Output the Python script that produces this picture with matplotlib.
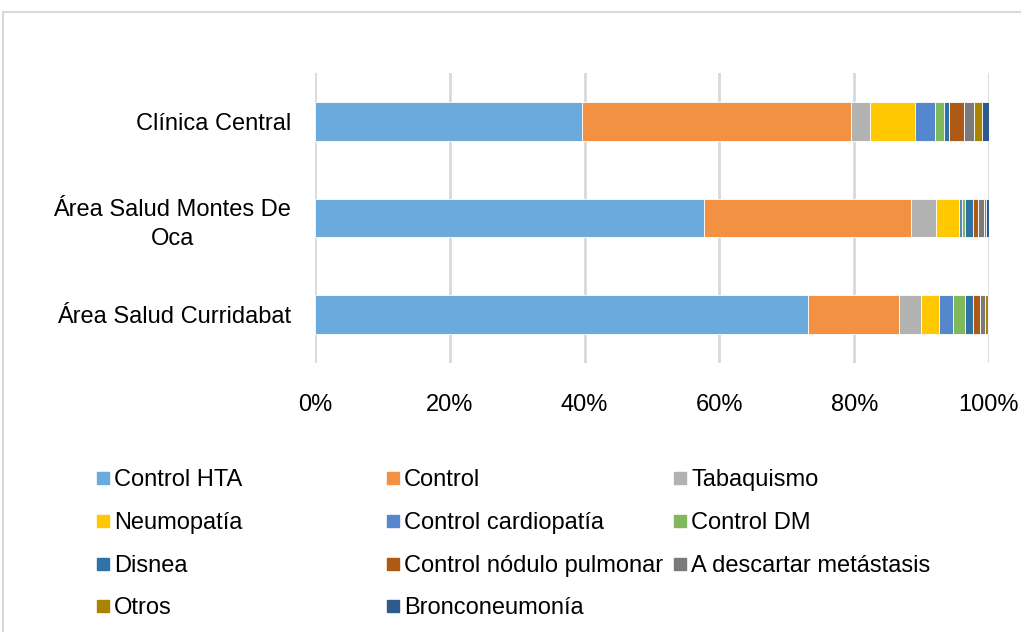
import matplotlib
matplotlib.use("Agg")
from matplotlib import pyplot as plt
from matplotlib.patches import Rectangle
import numpy as np

plt.rcParams['font.family'] = ['Liberation Sans', 'DejaVu Sans']

centros = ["Área Salud Curridabat", "Área Salud Montes De\nOca", "Clínica Central"]
motivos = ["Control HTA", "Control", "Tabaquismo", "Neumopatía", "Control cardiopatía",
           "Control DM", "Disnea", "Control nódulo pulmonar", "A descartar metástasis",
           "Otros", "Bronconeumonía"]
# porcentaje por motivo, en el orden de centros
valores = {
    "Control HTA":             [73.2, 57.7, 39.6],
    "Control":                 [13.4, 30.7, 39.9],
    "Tabaquismo":              [3.3, 3.7, 2.8],
    "Neumopatía":              [2.7, 3.4, 6.7],
    "Control cardiopatía":     [2.0, 0.5, 3.0],
    "Control DM":              [1.9, 0.5, 1.3],
    "Disnea":                  [1.2, 1.2, 0.8],
    "Control nódulo pulmonar": [1.0, 0.6, 2.2],
    "A descartar metástasis":  [0.7, 1.0, 1.5],
    "Otros":                   [0.5, 0.3, 1.1],
    "Bronconeumonía":          [0.1, 0.4, 1.1],
}
colores = ["#6AAADC", "#F29141", "#B2B2B2", "#FFC800", "#5587CF", "#80B85B",
           "#2E73A8", "#AE5914", "#7A7A7A", "#AA8400", "#2F5A8C"]

fig = plt.figure(figsize=(10.21, 6.32), dpi=100)
W, H = 1021, 632

# marco gris
fig.patches.append(Rectangle((3 / W, -0.2), 1.2, 1.2 - 12 / H, transform=fig.transFigure,
                             fill=False, edgecolor="#D9D9D9", linewidth=1.5))

ax = fig.add_axes([315 / W, 269 / H, 674 / W, 290 / H])
y = np.arange(len(centros))
izq = np.zeros(len(centros))
tot = np.sum([valores[m] for m in motivos], axis=0)
for m, c in zip(motivos, colores):
    v = np.array(valores[m]) / tot * 100
    ax.barh(y, v, left=izq, height=0.4, color=c, edgecolor="white", linewidth=0.6, zorder=3)
    izq += v

ax.set_xlim(0, 100)
ax.set_ylim(-0.5, 2.5)
ax.set_xticks(np.arange(0, 101, 20))
ax.set_xticklabels([f"{t}%" for t in range(0, 101, 20)])
ax.set_yticks(y)
ax.set_yticklabels(centros, multialignment="center", linespacing=1.45)
ax.tick_params(axis="x", length=0, pad=22, labelsize=17, colors="#000000")
ax.tick_params(axis="y", length=0, pad=17, labelsize=17)
ax.grid(axis="x", color="#D9D9D9", linewidth=2, zorder=0)
for s in ax.spines.values():
    s.set_visible(False)

# leyenda en filas, como en Excel
cols_x = [97, 387, 674]
filas_y = [478, 521, 564, 606]
for i, (m, c) in enumerate(zip(motivos, colores)):
    fx = cols_x[i % 3]
    fy = filas_y[i // 3]
    fig.patches.append(Rectangle((fx / W, 1 - (fy + 6) / H), 12 / W, 12 / H,
                                 transform=fig.transFigure, color=c))
    fig.text((fx + 17) / W, 1 - (fy + 2) / H, m, fontsize=17, va="center", ha="left")

fig.savefig("out.png", dpi=100)
